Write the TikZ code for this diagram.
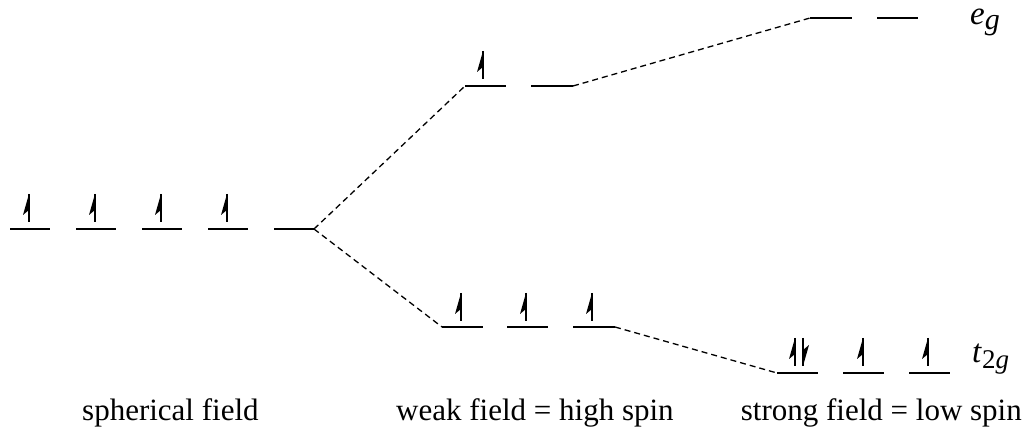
\documentclass[tikz,border=0pt]{standalone}
\usepackage{fontspec}
\setmainfont{Liberation Serif}
\begin{document}
\begin{tikzpicture}[x=1pt,y=1pt,
  level/.style={line width=2pt},
  conn/.style={dashed,dash pattern=on 6pt off 4pt,line width=1.3pt},
  lbl/.style={inner sep=0pt,font=\fontsize{31}{36}\selectfont},
  spinup/.pic={\fill (0,28) -- (-6,7) -- (0,12) -- cycle; \draw[line width=2.2pt] (0,0) -- (0,28);},
  spindown/.pic={\begin{scope}[rotate=180]\fill (0,28) -- (-6,7) -- (0,12) -- cycle; \draw[line width=2.2pt] (0,0) -- (0,28);\end{scope}}
]
\useasboundingbox (0,0) rectangle (1025,427);
% spherical levels y=198
\foreach \i/\a in {1/10,2/76,3/142,4/208,5/274}{
  \coordinate (s\i l) at (\a,198);
  \coordinate (s\i r) at (\a+40,198);
  \draw[level] (s\i l) -- (s\i r);
}
\foreach \x in {29,95,161,227}{\pic at (\x,205) {spinup};}
% weak upper y=341
\coordinate (wu1l) at (465,341); \coordinate (wu1r) at (506,341);
\coordinate (wu2l) at (531,341); \coordinate (wu2r) at (573,341);
\draw[level] (wu1l) -- (wu1r);
\draw[level] (wu2l) -- (wu2r);
\pic at (483,348) {spinup};
% weak lower y=100
\coordinate (wl1l) at (442,100); \coordinate (wl1r) at (483,100);
\coordinate (wl2l) at (507,100); \coordinate (wl2r) at (548,100);
\coordinate (wl3l) at (573,100); \coordinate (wl3r) at (615,100);
\draw[level] (wl1l) -- (wl1r);
\draw[level] (wl2l) -- (wl2r);
\draw[level] (wl3l) -- (wl3r);
\foreach \x in {461,526,592}{\pic at (\x,106) {spinup};}
% strong eg y=409
\coordinate (se1l) at (810,409); \coordinate (se1r) at (852,409);
\coordinate (se2l) at (877,409); \coordinate (se2r) at (918,409);
\draw[level] (se1l) -- (se1r);
\draw[level] (se2l) -- (se2r);
% strong t2g y=54
\coordinate (st1l) at (777,54); \coordinate (st1r) at (818,54);
\coordinate (st2l) at (843,54); \coordinate (st2r) at (884,54);
\coordinate (st3l) at (909,54); \coordinate (st3r) at (950,54);
\draw[level] (st1l) -- (st1r);
\draw[level] (st2l) -- (st2r);
\draw[level] (st3l) -- (st3r);
\pic at (795,61) {spinup};
\pic at (803,89) {spindown};
\foreach \x in {863,928}{\pic at (\x,61) {spinup};}
% connectors
\draw[conn] (s5r) -- (wu1l);
\draw[conn] (s5r) -- (wl1l);
\draw[conn] (wu2r) -- (se1l);
\draw[conn] (wl3r) -- (st1l);
% labels
\node[lbl,anchor=base west] (eg) at (970,402) {\fontsize{33}{38}\selectfont\textit{e}\raisebox{-5pt}{\fontsize{30}{34}\selectfont\textit{g}}};
\node[lbl,anchor=base west] (t2g) at (972,64) {\fontsize{33}{38}\selectfont\textit{t}\raisebox{-6pt}{\fontsize{27}{32}\selectfont 2\textit{g}}};
\node[lbl,anchor=base west] (sph) at (82,6) {spherical field};
\node[lbl,anchor=base west] (weak) at (396,6) {weak field = high spin};
\node[lbl,anchor=base east] (strong) at (1022,6) {strong field = low spin};
\end{tikzpicture}
\end{document}
